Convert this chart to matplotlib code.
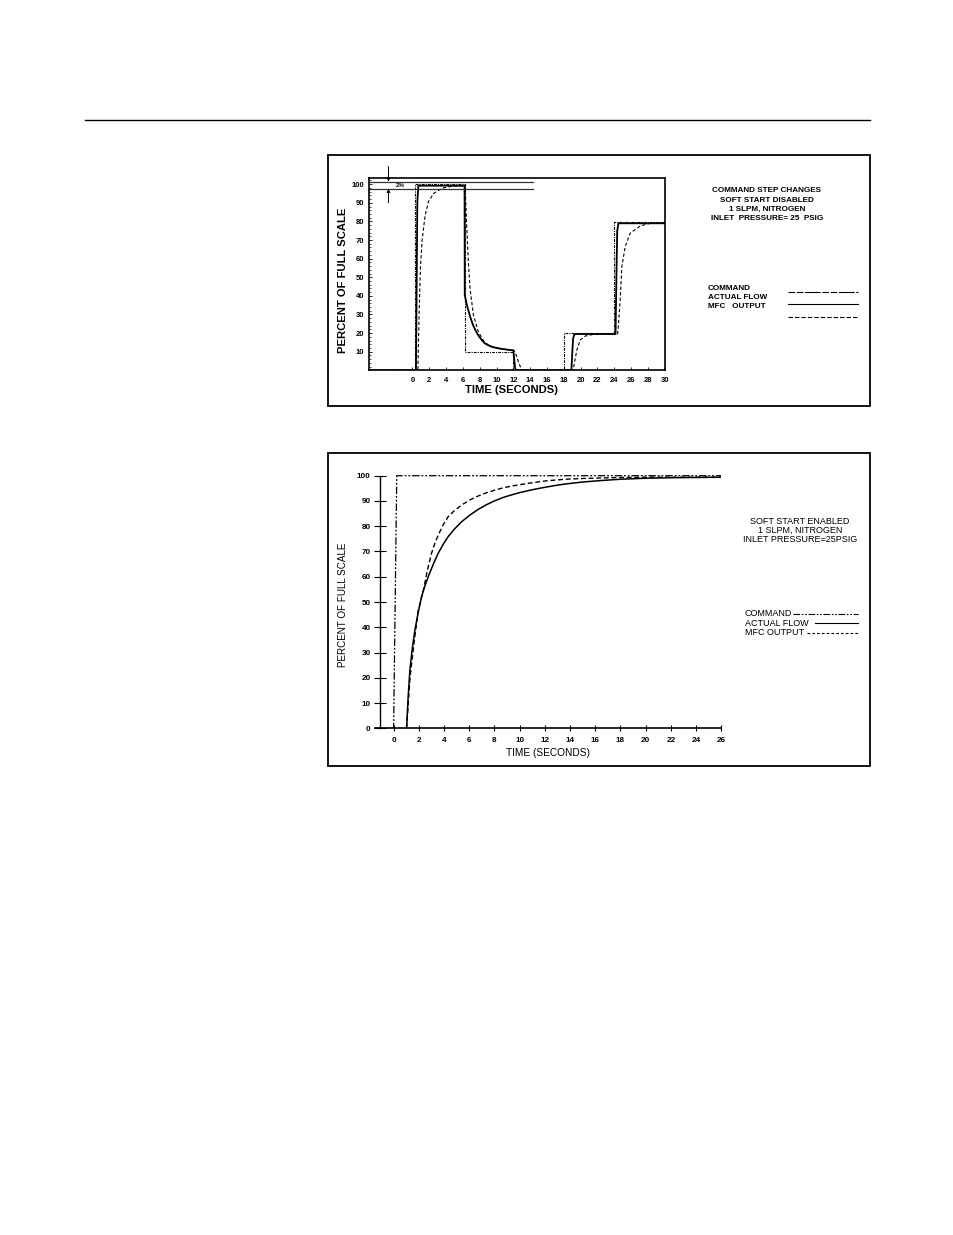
import matplotlib
matplotlib.use("Agg")
import matplotlib.pyplot as plt
from matplotlib import font_manager
from matplotlib.lines import Line2D
from matplotlib.patches import Rectangle

# ---------------- data: chart 1 (soft start disabled) ----------------
cmd1_t = [-5.2, 0.3, 0.3, 6.2, 6.2, 12.0, 12.0, 18.0, 18.0, 24.0, 24.0, 30.0]
cmd1_v = [0, 0, 100, 100, 10, 10, 0, 0, 20, 20, 79.5, 79.5]

act1_t = [-5.2, 0.42, 0.5, 0.58, 0.7, 6.2, 6.22, 6.4, 6.6, 6.9, 7.2, 7.5, 7.8, 8.2,
          8.6, 9.0, 9.4, 10.0, 10.6, 12.0, 12.1, 12.2, 12.3, 18.9, 19.0, 19.1,
          19.25, 19.5, 24.15, 24.25, 24.35, 24.5, 30.0]
act1_v = [0, 0, 45, 90, 99.2, 99.2, 40.5, 36.5, 33, 28.3, 24.4, 21.4, 19, 16.5,
          14.5, 13.5, 12.7, 12.0, 11.5, 10.7, 6, 1.5, 0, 0, 9, 17,
          19.3, 19.5, 19.5, 50, 75, 79, 79]

mfc1_t = [-5.2, 0.65, 0.72, 0.8, 0.95, 1.15, 1.5, 1.9, 2.5, 3.5, 4.4, 6.25,
          6.45, 6.65, 6.85, 7.25, 7.85, 8.6, 9.4, 10.6, 12.1, 12.3, 12.6, 13.0,
          19.1, 19.3, 19.55, 19.95, 20.55, 21.5, 23.0, 24.4, 24.5, 24.7, 24.9,
          25.3, 25.9, 27.1, 28.3, 30.0]
mfc1_v = [0, 0, 15, 32, 55, 70, 83, 90.6, 95, 97.8, 98.7, 99.2,
          78, 58, 44, 29.7, 20.5, 14.8, 12.8, 11.5, 10.7, 8.5, 4.6, 0,
          0, 5, 10.9, 16.3, 18.4, 19.3, 19.5, 19.5, 25, 37.8, 55.7,
          66.5, 73.7, 77.6, 79, 79]

band_levels = [101.4, 97.6]
band_end = 14.35
x1_ticks = list(range(0, 31, 2))
y1_ticks = list(range(10, 101, 10))

# ---------------- data: chart 2 (soft start enabled) ----------------
cmd2_t = [-1.5, 0.0, 0.25, 26.0]
cmd2_v = [0, 0, 100, 100]

act2_t = [1.03, 1.15, 1.29, 1.48, 1.69, 1.95, 2.22, 2.48, 2.75, 3.15, 3.54, 3.93,
          4.33, 4.85, 5.4, 6.05, 6.72, 7.4, 8.04, 8.7, 9.36, 10.0, 10.7, 11.35,
          12.0, 12.8, 13.6, 14.3, 15.0, 16.5, 18.0, 20.0, 22.0, 26.0]
act2_v = [0, 12, 23, 31.5, 38.9, 45.8, 52.1, 56.3, 60, 65, 69.3, 72.8,
          75.9, 79.0, 81.8, 84.4, 86.7, 88.6, 90.1, 91.4, 92.4, 93.3, 94.1, 94.8,
          95.4, 96.1, 96.7, 97.1, 97.5, 98.1, 98.6, 99.0, 99.2, 99.4]

mfc2_t = [1.03, 1.15, 1.3, 1.6, 1.96, 2.4, 2.7, 3.01, 3.27, 3.54, 3.93, 4.33,
          4.85, 5.4, 6.05, 6.72, 7.4, 8.04, 8.7, 9.36, 10.7, 12.0, 13.6, 15.0,
          16.5, 18.0, 20.0, 26.0]
mfc2_v = [0, 9, 20, 33, 46.8, 55.5, 63, 69.3, 73.2, 76.5, 80.5, 83.8,
          86.3, 88.4, 90.4, 92, 93.3, 94.3, 95.2, 95.9, 97, 97.9, 98.6, 98.9,
          99.1, 99.3, 99.4, 99.4]

x2_ticks = list(range(0, 27, 2))
y2_ticks = list(range(0, 101, 10))

# ---------------- fonts ----------------
names = {f.name for f in font_manager.fontManager.ttflist}
BOLD = 'Liberation Sans' if 'Liberation Sans' in names else 'DejaVu Sans'
if 'Liberation Sans Narrow' in names:
    NARROW = 'Liberation Sans Narrow'
    nscale = 1.0
else:
    NARROW = BOLD
    nscale = 0.82

W, H = 954, 1235
fig = plt.figure(figsize=(W / 100, H / 100), dpi=100)
fig.patch.set_facecolor('white')


def fx(x):
    return x / W


def fy(y):
    return 1 - y / H


def axes_px(left, top, right, bottom):
    return fig.add_axes([fx(left), fy(bottom), (right - left) / W, (bottom - top) / H])


# page rule
fig.add_artist(Line2D([fx(85), fx(870)], [fy(120), fy(120)], color='black', lw=1.0))

# boxes
for (l, t, r, b) in [(328, 155, 870, 406), (328, 453, 870, 766)]:
    fig.add_artist(Rectangle((fx(l), fy(b)), (r - l) / W, (b - t) / H,
                             fill=False, ec='black', lw=1.3, transform=fig.transFigure))

# ================= chart 1 =================
ax1 = axes_px(368.7, 177.7, 665, 370.3)
ax1.set_xlim(-5.2, 30.03)
ax1.set_ylim(0, 103.5)
ax1.plot(cmd1_t, cmd1_v, color='black', lw=0.8, ls=(0, (2.5, 1, 1, 1)))
ax1.plot(act1_t, act1_v, color='black', lw=1.3, solid_joinstyle='round')
ax1.plot(mfc1_t, mfc1_v, color='black', lw=0.8, ls=(0, (3, 2)))
for lv in band_levels:
    ax1.plot([-5.2, band_end], [lv, lv], color='#333333', lw=0.9)
ax1.annotate('', xy=(-2.85, band_levels[0]), xytext=(-2.85, 109.5),
             arrowprops=dict(arrowstyle='-|>', color='black', lw=0.7, mutation_scale=5,
                             shrinkA=0, shrinkB=0), annotation_clip=False)
ax1.annotate('', xy=(-2.85, band_levels[1]), xytext=(-2.85, 90),
             arrowprops=dict(arrowstyle='-|>', color='black', lw=0.7, mutation_scale=5,
                             shrinkA=0, shrinkB=0), annotation_clip=False)
ax1.text(-1.4, 99.5, '2%', fontsize=4.5, fontweight='bold', family=BOLD,
         ha='center', va='center')
for s in ax1.spines.values():
    s.set_linewidth(1.2)
ax1.set_xticks(x1_ticks)
ax1.set_yticks(y1_ticks)
ax1.set_yticks(list(range(2, 104, 2)), minor=True)
ax1.tick_params(axis='both', which='major', direction='in', length=2.5, width=0.6,
                labelsize=5.5)
ax1.tick_params(axis='y', which='minor', direction='in', length=1.5, width=0.5)
ax1.tick_params(axis='x', pad=5)
ax1.tick_params(axis='y', pad=3)
for lab in ax1.get_xticklabels() + ax1.get_yticklabels():
    lab.set_fontweight('bold')
    lab.set_family(BOLD)

fig.text(fx(343), fy(280), 'PERCENT OF FULL SCALE', rotation=90, ha='center', va='center',
         fontsize=8.1, fontweight='bold', family=BOLD)
fig.text(fx(511), fy(390), 'TIME (SECONDS)', ha='center', va='center',
         fontsize=8.1, fontweight='bold', family=BOLD)

for txt, y in [('COMMAND STEP CHANGES', 190), ('SOFT START DISABLED', 200),
               ('1 SLPM, NITROGEN', 209.3), ('INLET  PRESSURE= 25  PSIG', 218.3)]:
    fig.text(fx(766.7), fy(y), txt, ha='center', va='center', fontsize=5.9,
             fontweight='bold', family=BOLD)

leg1 = [('COMMAND', 288.3, 292.3, (0, (6, 1.5, 6, 1.5, 14, 1.5))),
        ('ACTUAL FLOW', 297.3, 304, '-'),
        ('MFC   OUTPUT', 306, 317, (0, (4, 1.8)))]
for txt, ty, ly, ls in leg1:
    fig.text(fx(708), fy(ty), txt, ha='left', va='center', fontsize=5.9,
             fontweight='bold', family=BOLD)
    fig.add_artist(Line2D([fx(788), fx(858)], [fy(ly), fy(ly)], color='black',
                          lw=0.8, ls=ls))

# ================= chart 2 =================
ax2 = axes_px(374.7, 470.65, 721.3, 728.3)
ax2.set_xlim(-1.5, 26)
ax2.set_ylim(0, 102)
ax2.plot(cmd2_t, cmd2_v, color='black', lw=0.9, ls=(0, (6, 1.5, 1.5, 1.5, 1.5, 1.5)))
ax2.plot(act2_t, act2_v, color='black', lw=1.1)
ax2.plot(mfc2_t, mfc2_v, color='black', lw=1.0, ls=(0, (3.5, 2)))
ax2.spines['top'].set_visible(False)
ax2.spines['right'].set_visible(False)
ax2.spines['left'].set_position(('data', -1.05))
ax2.spines['left'].set_bounds(0, 100)
ax2.spines['left'].set_linewidth(1.0)
ax2.spines['bottom'].set_linewidth(1.2)
ax2.set_xticks(x2_ticks)
ax2.set_yticks(y2_ticks)
ax2.tick_params(axis='y', direction='inout', length=8, width=0.8, pad=3,
                labelsize=7.2 * nscale)
ax2.tick_params(axis='x', direction='inout', length=5, width=0.8, pad=4,
                labelsize=7.2 * nscale)
for lab in ax2.get_xticklabels() + ax2.get_yticklabels():
    lab.set_fontweight('bold')
    lab.set_family(NARROW)

fig.text(fx(343), fy(605), 'PERCENT OF FULL SCALE', rotation=90, ha='center', va='center',
         fontsize=8.7 * nscale, family=NARROW)
fig.text(fx(548), fy(752.7), 'TIME (SECONDS)', ha='center', va='center',
         fontsize=8.9 * nscale, family=NARROW)

for txt, y in [('SOFT START ENABLED', 521.7), ('1 SLPM, NITROGEN', 530.7),
               ('INLET PRESSURE=25PSIG', 539.3)]:
    fig.text(fx(800), fy(y), txt, ha='center', va='center', fontsize=7.9 * nscale,
             family=NARROW)

leg2 = [('COMMAND', 614, 793, (0, (6, 1.5, 1.5, 1.5, 1.5, 1.5))),
        ('ACTUAL FLOW', 623.3, 815, '-'),
        ('MFC OUTPUT', 632.5, 807, (0, (2.5, 1.8)))]
for txt, y, lx, ls in leg2:
    fig.text(fx(745), fy(y), txt, ha='left', va='center', fontsize=7.9 * nscale,
             family=NARROW)
    fig.add_artist(Line2D([fx(lx), fx(858)], [fy(y), fy(y)], color='black',
                          lw=0.8, ls=ls))

fig.savefig('out.png', dpi=100, facecolor='white')
